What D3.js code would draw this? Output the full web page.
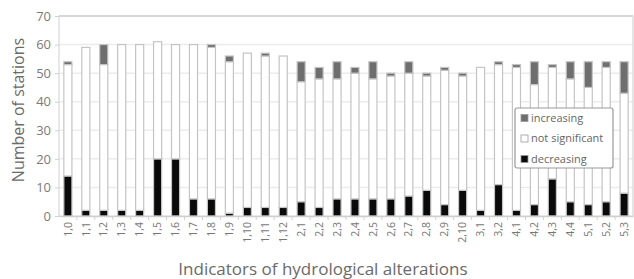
<html>
<head>
<script src="https://cdnjs.cloudflare.com/ajax/libs/d3/7.8.5/d3.min.js"></script>
<style>
  body { margin: 0; background: #fff; font-family: 'Open Sans', sans-serif; }
  svg text { fill: #6f6f6f; }
</style>
</head>
<body>
<svg id="svg" width="634" height="279"></svg>
<script>
var categories = ["1,0","1,1","1,2","1,3","1,4","1,5","1,6","1,7","1,8","1,9","1,10","1,11","1,12",
  "2,1","2,2","2,3","2,4","2,5","2,6","2,7","2,8","2,9","2,10","3,1","3,2",
  "4,1","4,2","4,3","4,4","5,1","5,2","5,3"];
var decreasing     = [14, 2, 2, 2, 2,20,20, 6, 6, 1, 3, 3, 3, 5, 3, 6, 6, 6, 6, 7, 9, 4, 9, 2,11, 2, 4,13, 5, 4, 5, 8];
var notSignificant = [39,57,51,58,58,41,40,54,53,53,54,53,53,42,45,42,44,42,43,43,40,47,40,50,42,50,42,39,43,41,47,35];
var increasing     = [ 1, 0, 7, 0, 0, 0, 0, 0, 1, 2, 0, 1, 0, 7, 4, 6, 2, 6, 1, 4, 1, 1, 1, 0, 1, 1, 8, 1, 6, 9, 2,11];
var yTicks = [0,10,20,30,40,50,60,70];

var svg = d3.select("svg");
var plotLeft = 59, plotRight = 633, plotTop = 16, plotBottom = 216;

var x = d3.scaleBand().domain(categories).range([plotLeft, plotRight]).paddingInner(0.55).paddingOuter(0.27);
var y = d3.scaleLinear().domain([0,70]).range([plotBottom, plotTop]);

// grid
svg.append("g").selectAll("line").data(yTicks).enter().append("line")
  .attr("x1", plotLeft).attr("x2", plotRight)
  .attr("y1", function(d){ return y(d); }).attr("y2", function(d){ return y(d); })
  .attr("stroke", function(d){ return d == 70 ? "#d6d6d6" : "#ececec"; })
  .attr("stroke-width", function(d){ return d == 70 ? 2 : 1.5; });
svg.append("line").attr("x1", plotRight).attr("x2", plotRight).attr("y1", plotTop).attr("y2", plotBottom)
  .attr("stroke", "#dcdcdc").attr("stroke-width", 1.5);
svg.append("line").attr("x1", plotLeft).attr("x2", plotLeft).attr("y1", plotTop).attr("y2", plotBottom)
  .attr("stroke", "#d8d8d8").attr("stroke-width", 1.2);

// stacked data
var rows = categories.map(function(c, i){
  return {cat: c, decreasing: decreasing[i], notSignificant: notSignificant[i], increasing: increasing[i]};
});
var stack = d3.stack().keys(["decreasing","notSignificant","increasing"])(rows);
var fills = {decreasing: "#0a0a0a", notSignificant: "#ffffff", increasing: "#6e6e6e"};

svg.append("g").selectAll("g").data(stack).enter().append("g")
  .attr("fill", function(s){ return fills[s.key]; })
  .selectAll("rect").data(function(s){ return s; }).enter().append("rect")
  .attr("x", function(d){ return x(d.data.cat); })
  .attr("width", x.bandwidth())
  .attr("y", function(d){ return y(d[1]); })
  .attr("height", function(d){ return Math.max(0, y(d[0]) - y(d[1])); })
  .attr("stroke", "#c4c4c4").attr("stroke-width", 1.2);

// x axis
var xAxis = svg.append("g").attr("transform", "translate(0," + plotBottom + ")")
  .call(d3.axisBottom(x).tickSize(0).tickPadding(6));
xAxis.select(".domain").attr("stroke", "#cfcfcf").attr("stroke-width", 1.5);
xAxis.selectAll("text")
  .attr("transform", "rotate(-90)")
  .attr("text-anchor", "end")
  .attr("x", -6).attr("y", 0).attr("dy", "0.35em")
  .style("font-size", "10.5px").style("font-family", "'Open Sans', sans-serif").style("fill", "#777");
// small separators between categories
svg.append("g").selectAll("line").data(categories.slice(1)).enter().append("line")
  .attr("x1", function(d){ return x(d) - x.step()*x.paddingInner()/2; })
  .attr("x2", function(d){ return x(d) - x.step()*x.paddingInner()/2; })
  .attr("y1", plotBottom).attr("y2", plotBottom + 4)
  .attr("stroke", "#d0d0d0").attr("stroke-width", 1);

// y axis
var yAxis = svg.append("g").attr("transform", "translate(" + plotLeft + ",0)")
  .call(d3.axisLeft(y).tickValues(yTicks).tickSize(4).tickPadding(4));
yAxis.select(".domain").remove();
yAxis.selectAll(".tick line").attr("stroke", "#d0d0d0");
yAxis.selectAll("text").style("font-size", "13px").style("font-family", "'Open Sans', sans-serif").style("fill", "#7a7a7a");

// axis titles
svg.append("text").attr("x", 323).attr("y", 275).attr("text-anchor", "middle")
  .style("font-size", "17px").style("fill", "#6a6a6a").text("Indicators of hydrological alterations");
svg.append("text").attr("transform", "translate(24,110) rotate(-90)").attr("text-anchor", "middle")
  .style("font-size", "16px").style("fill", "#6a6a6a").text("Number of stations");

// legend
var legend = svg.append("g").attr("transform", "translate(515,108)");
legend.append("rect").attr("width", 98).attr("height", 60).attr("rx", 2)
  .attr("fill", "#fff").attr("stroke", "#999").attr("stroke-width", 1.2);
var legendItems = [["increasing","increasing"],["not significant","notSignificant"],["decreasing","decreasing"]];
legendItems.forEach(function(it, i){
  var g = legend.append("g").attr("transform", "translate(6," + (10 + i*20.5) + ")");
  g.append("rect").attr("x", 0).attr("y", -3.5).attr("width", 7).attr("height", 7)
    .attr("fill", fills[it[1]]).attr("stroke", "#999").attr("stroke-width", 0.8);
  g.append("text").attr("x", 10).attr("y", 0).attr("dy", "0.35em")
    .style("font-size", "11px").style("fill", "#666").text(it[0]);
});
</script>
</body>
</html>
